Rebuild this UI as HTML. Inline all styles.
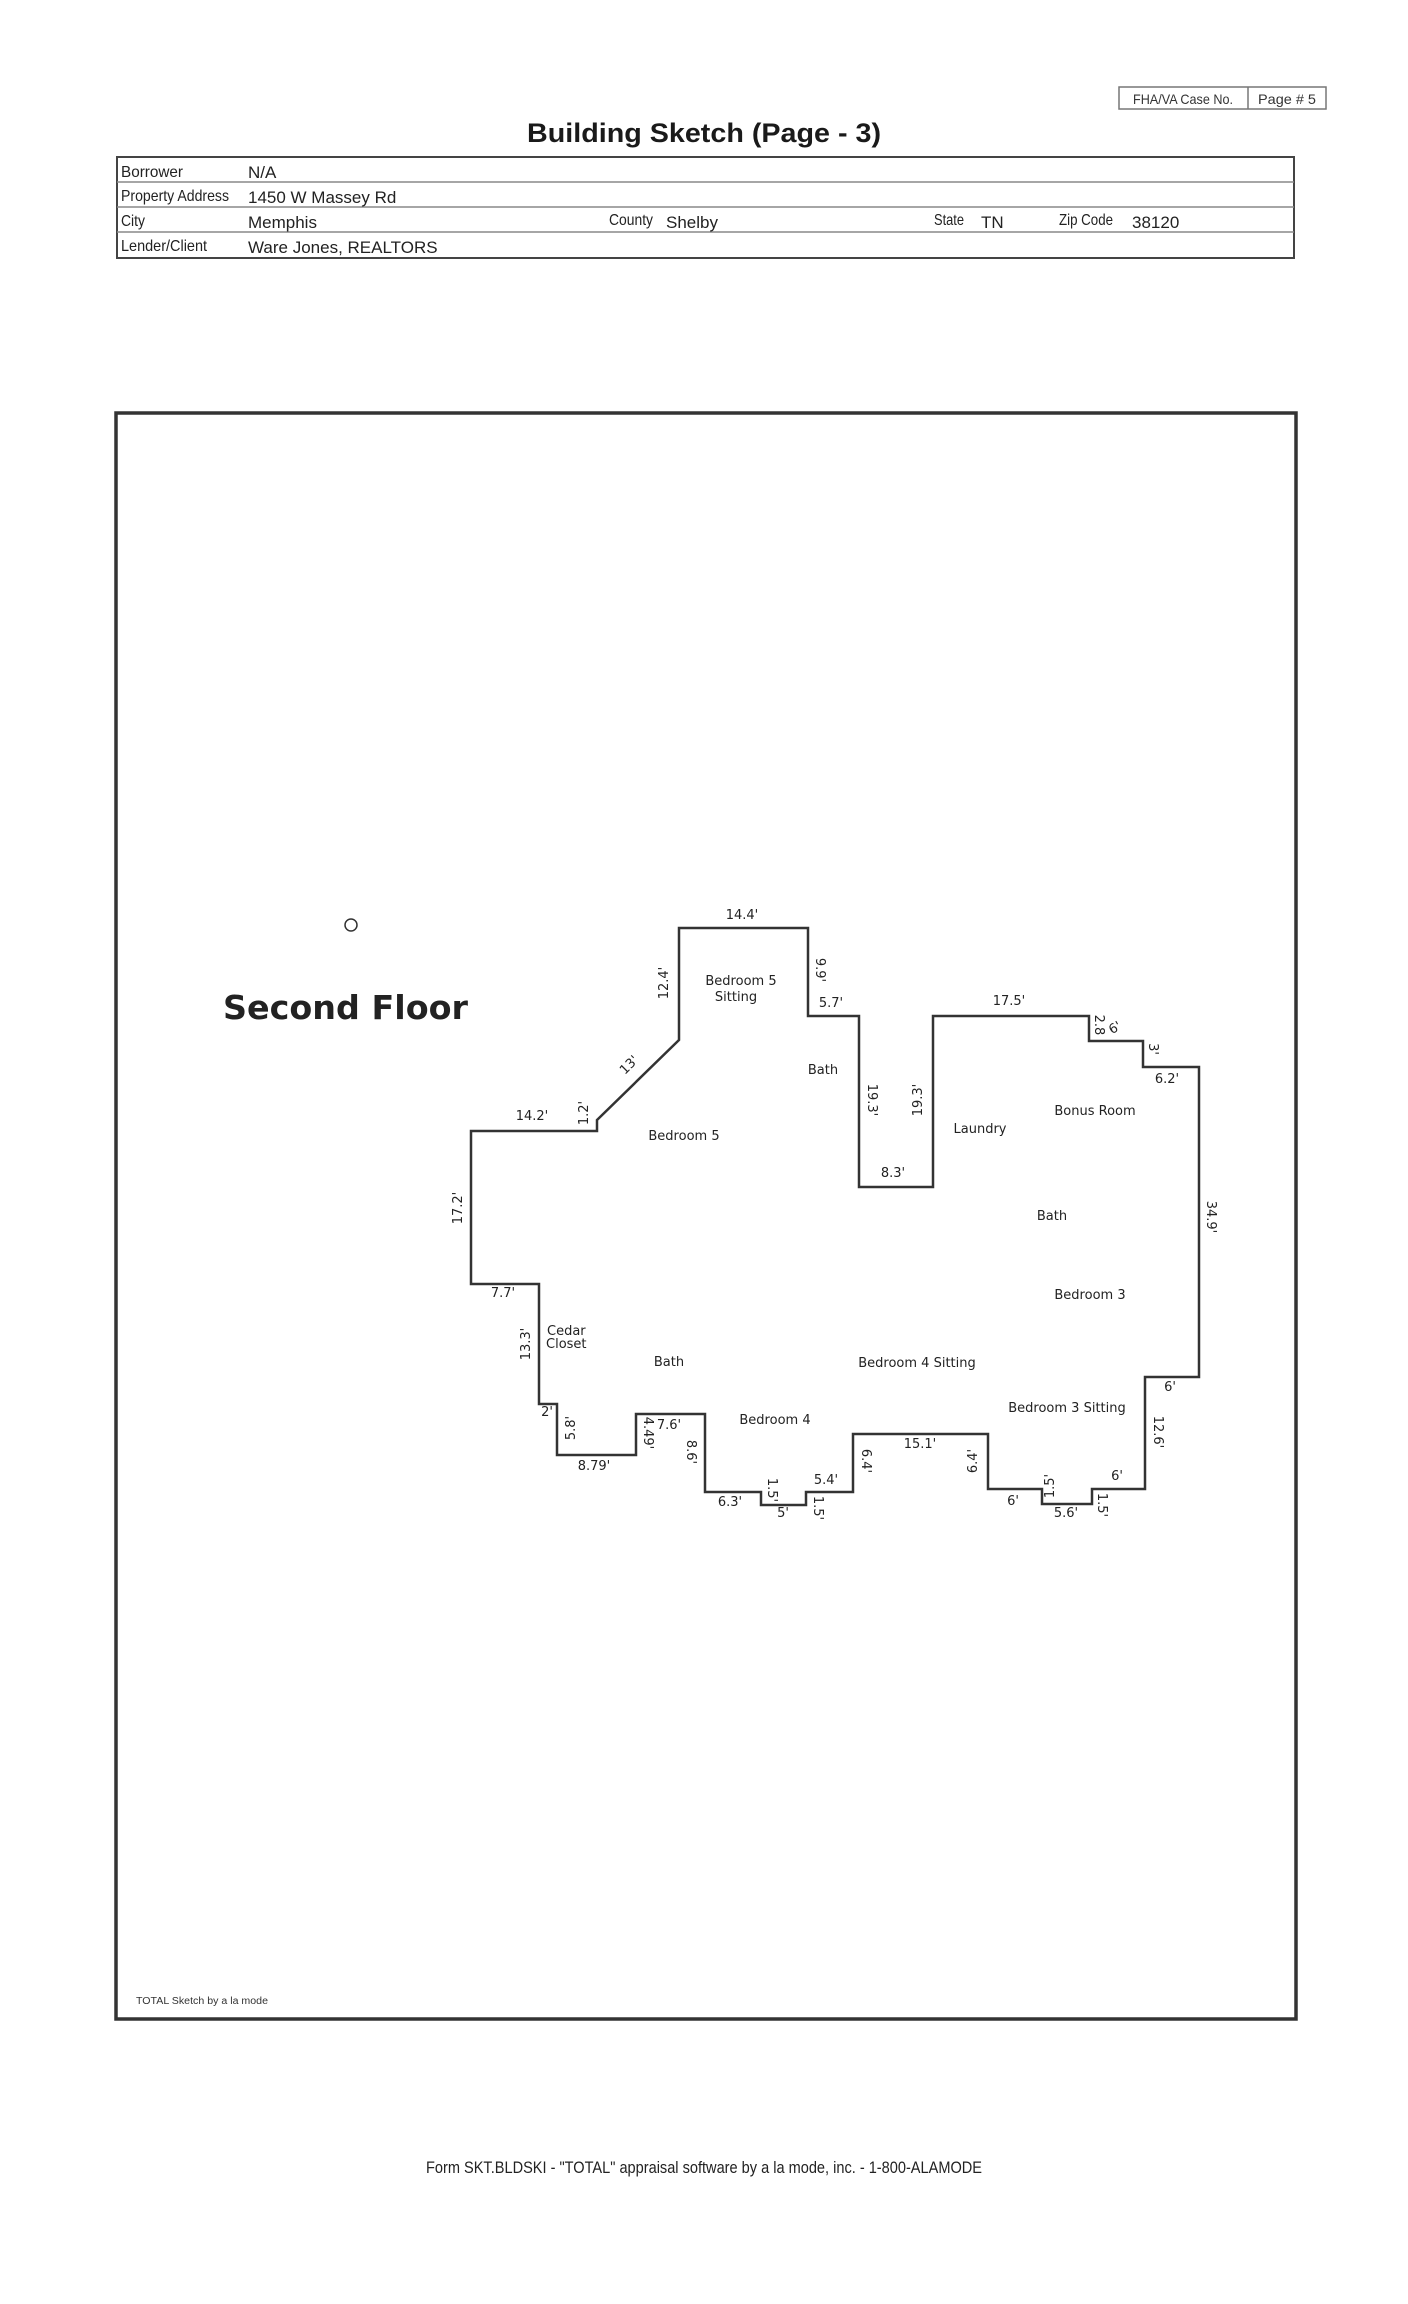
<!DOCTYPE html>
<html><head><meta charset="utf-8"><style>
html,body{margin:0;padding:0;background:#fff}
svg{display:block}
.n{font-family:"Liberation Sans Narrow","Liberation Sans",sans-serif}
.d{font-family:"DejaVu Sans","Liberation Sans",sans-serif;font-size:13px;fill:#222}
</style></head><body>
<svg width="1408" height="2304" viewBox="0 0 1408 2304" xmlns="http://www.w3.org/2000/svg">
<rect width="1408" height="2304" fill="#fff"/>
<!-- FHA box -->
<rect x="1119" y="87" width="207" height="22" fill="none" stroke="#777" stroke-width="1.5"/>
<line x1="1248" y1="87" x2="1248" y2="109" stroke="#777" stroke-width="1.5"/>
<text x="1183" y="104" class="n" font-size="14" text-anchor="middle" fill="#333" textLength="100" lengthAdjust="spacingAndGlyphs">FHA/VA Case No.</text>
<text x="1287" y="104" class="n" font-size="14" text-anchor="middle" fill="#333" textLength="58" lengthAdjust="spacingAndGlyphs">Page # 5</text>
<!-- Title -->
<text x="704" y="142" class="n" font-size="27" font-weight="bold" text-anchor="middle" fill="#1a1a1a" textLength="354" lengthAdjust="spacingAndGlyphs">Building Sketch (Page - 3)</text>
<!-- info table -->
<rect x="117" y="157" width="1177" height="101" fill="none" stroke="#444" stroke-width="2"/>
<line x1="117" y1="182" x2="1294" y2="182" stroke="#888" stroke-width="1.5"/>
<line x1="117" y1="207" x2="1294" y2="207" stroke="#888" stroke-width="1.5"/>
<line x1="117" y1="232" x2="1294" y2="232" stroke="#888" stroke-width="1.5"/>
<g class="n" font-size="16" fill="#222">
<text x="121" y="177" textLength="62" lengthAdjust="spacingAndGlyphs">Borrower</text>
<text x="121" y="201" textLength="108" lengthAdjust="spacingAndGlyphs">Property Address</text>
<text x="121" y="226" textLength="24" lengthAdjust="spacingAndGlyphs">City</text>
<text x="121" y="251" textLength="86" lengthAdjust="spacingAndGlyphs">Lender/Client</text>
<text x="609" y="225" textLength="44" lengthAdjust="spacingAndGlyphs">County</text>
<text x="934" y="225" textLength="30" lengthAdjust="spacingAndGlyphs">State</text>
<text x="1059" y="225" textLength="54" lengthAdjust="spacingAndGlyphs">Zip Code</text>
</g>
<g font-family="Liberation Sans,sans-serif" font-size="17" fill="#222">
<text x="248" y="178">N/A</text>
<text x="248" y="203">1450 W Massey Rd</text>
<text x="248" y="228">Memphis</text>
<text x="666" y="228">Shelby</text>
<text x="981" y="228">TN</text>
<text x="1132" y="228">38120</text>
<text x="248" y="253">Ware Jones, REALTORS</text>
</g>
<!-- frame -->
<rect x="116" y="413" width="1180" height="1606" fill="none" stroke="#333" stroke-width="3.5"/>
<circle cx="351" cy="925" r="6" fill="none" stroke="#333" stroke-width="1.5"/>
<text x="223" y="1019" font-family="DejaVu Sans,sans-serif" font-weight="bold" font-size="33" fill="#222" textLength="245" lengthAdjust="spacingAndGlyphs">Second Floor</text>
<!-- plan -->
<polygon fill="none" stroke="#333" stroke-width="2.5" stroke-linejoin="miter" points="679,928 808,928 808,1016 859,1016 859,1187 933,1187 933,1016 1089,1016 1089,1041 1143,1041 1143,1067 1199,1067 1199,1377 1145,1377 1145,1489 1092,1489 1092,1504 1042,1504 1042,1489 988,1489 988,1434 853,1434 853,1492 806,1492 806,1505 761,1505 761,1492 705,1492 705,1414 636,1414 636,1455 557,1455 557,1404 539,1404 539,1284 471,1284 471,1131 597,1131 597,1120 679,1040"/>
<g class="d">
<text x="742" y="919" text-anchor="middle">14.4'</text>
<text x="741" y="985" text-anchor="middle">Bedroom 5</text>
<text x="736" y="1001" text-anchor="middle">Sitting</text>
<text x="831" y="1007" text-anchor="middle">5.7'</text>
<text x="823" y="1074" text-anchor="middle">Bath</text>
<text x="532" y="1120" text-anchor="middle">14.2'</text>
<text x="684" y="1140" text-anchor="middle">Bedroom 5</text>
<text x="893" y="1177" text-anchor="middle">8.3'</text>
<text x="1009" y="1005" text-anchor="middle">17.5'</text>
<text x="1167" y="1083" text-anchor="middle">6.2'</text>
<text x="1095" y="1115" text-anchor="middle">Bonus Room</text>
<text x="980" y="1133" text-anchor="middle">Laundry</text>
<text x="1052" y="1220" text-anchor="middle">Bath</text>
<text x="1090" y="1299" text-anchor="middle">Bedroom 3</text>
<text x="917" y="1367" text-anchor="middle">Bedroom 4 Sitting</text>
<text x="1170" y="1391" text-anchor="middle">6'</text>
<text x="1067" y="1412" text-anchor="middle">Bedroom 3 Sitting</text>
<text x="920" y="1448" text-anchor="middle">15.1'</text>
<text x="1117" y="1480" text-anchor="middle">6'</text>
<text x="1013" y="1505" text-anchor="middle">6'</text>
<text x="1066" y="1517" text-anchor="middle">5.6'</text>
<text x="503" y="1297" text-anchor="middle">7.7'</text>
<text x="547" y="1335">Cedar</text>
<text x="546" y="1348">Closet</text>
<text x="669" y="1366" text-anchor="middle">Bath</text>
<text x="547" y="1416" text-anchor="middle">2'</text>
<text x="669" y="1429" text-anchor="middle">7.6'</text>
<text x="775" y="1424" text-anchor="middle">Bedroom 4</text>
<text x="594" y="1470" text-anchor="middle">8.79'</text>
<text x="730" y="1506" text-anchor="middle">6.3'</text>
<text x="783" y="1517" text-anchor="middle">5'</text>
<text x="826" y="1484" text-anchor="middle">5.4'</text>
<text x="1115" y="1032" text-anchor="middle" transform="rotate(-30 1115 1028)">6'</text>
<!-- rotated -90 -->
<text transform="translate(668 983) rotate(-90)" text-anchor="middle">12.4'</text>
<text transform="translate(588 1113) rotate(-90)" text-anchor="middle">1.2'</text>
<text transform="translate(922 1100) rotate(-90)" text-anchor="middle">19.3'</text>
<text transform="translate(462 1208) rotate(-90)" text-anchor="middle">17.2'</text>
<text transform="translate(977 1461) rotate(-90)" text-anchor="middle">6.4'</text>
<text transform="translate(1054 1486) rotate(-90)" text-anchor="middle">1.5'</text>
<text transform="translate(530 1344) rotate(-90)" text-anchor="middle">13.3'</text>
<text transform="translate(575 1428) rotate(-90)" text-anchor="middle">5.8'</text>
<text transform="translate(632 1068) rotate(-45)" text-anchor="middle">13'</text>
<!-- rotated +90 -->
<text transform="translate(816 970) rotate(90)" text-anchor="middle">9.9'</text>
<text transform="translate(868 1100) rotate(90)" text-anchor="middle">19.3'</text>
<text transform="translate(1095 1025) rotate(90)" text-anchor="middle">2.8</text>
<text transform="translate(1149 1049) rotate(90)" text-anchor="middle">3'</text>
<text transform="translate(1207 1217) rotate(90)" text-anchor="middle">34.9'</text>
<text transform="translate(1154 1432) rotate(90)" text-anchor="middle">12.6'</text>
<text transform="translate(862 1461) rotate(90)" text-anchor="middle">6.4'</text>
<text transform="translate(1098 1505) rotate(90)" text-anchor="middle">1.5'</text>
<text transform="translate(644 1433) rotate(90)" text-anchor="middle">4.49'</text>
<text transform="translate(687 1452) rotate(90)" text-anchor="middle">8.6'</text>
<text transform="translate(768 1490) rotate(90)" text-anchor="middle">1.5'</text>
<text transform="translate(814 1508) rotate(90)" text-anchor="middle">1.5'</text>
</g>
<text x="136" y="2004" class="n" font-size="10" fill="#333" textLength="132" lengthAdjust="spacingAndGlyphs">TOTAL Sketch by a la mode</text>
<text x="704" y="2173" class="n" font-size="17" text-anchor="middle" fill="#222" textLength="556" lengthAdjust="spacingAndGlyphs">Form SKT.BLDSKI - "TOTAL" appraisal software by a la mode, inc. - 1-800-ALAMODE</text>
</svg>
</body></html>
